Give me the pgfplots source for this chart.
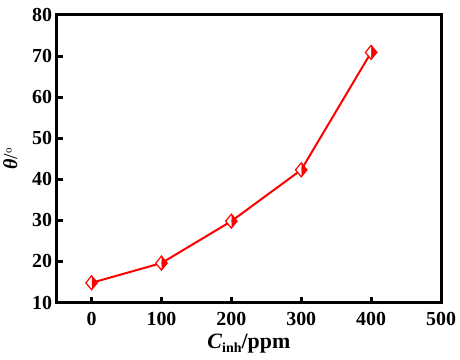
\documentclass[border=0pt]{standalone}
\usepackage{pgfplots}
\pgfplotsset{compat=1.18}
\usepackage{fontspec}
\setmainfont{Liberation Serif}
\pgfdeclareplotmark{hdiamond}{%
  \pgfpathmoveto{\pgfqpoint{0pt}{\pgfplotmarksize}}%
  \pgfpathlineto{\pgfqpoint{0.82\pgfplotmarksize}{0pt}}%
  \pgfpathlineto{\pgfqpoint{0pt}{-\pgfplotmarksize}}%
  \pgfpathclose
  \pgfsetfillcolor{red}\pgfusepath{fill}%
  \pgfpathmoveto{\pgfqpoint{0pt}{\pgfplotmarksize}}%
  \pgfpathlineto{\pgfqpoint{-0.82\pgfplotmarksize}{0pt}}%
  \pgfpathlineto{\pgfqpoint{0pt}{-\pgfplotmarksize}}%
  \pgfpathclose
  \pgfsetfillcolor{white}\pgfusepath{fill}%
  \pgfpathmoveto{\pgfqpoint{0pt}{\pgfplotmarksize}}%
  \pgfpathlineto{\pgfqpoint{0.82\pgfplotmarksize}{0pt}}%
  \pgfpathlineto{\pgfqpoint{0pt}{-\pgfplotmarksize}}%
  \pgfpathlineto{\pgfqpoint{-0.82\pgfplotmarksize}{0pt}}%
  \pgfpathclose
  \pgfusepath{stroke}%
}
\begin{document}
\begin{tikzpicture}
\begin{axis}[
  scale only axis,
  width=385bp, height=288bp,
  xmin=-50, xmax=500, ymin=10, ymax=80,
  xtick={0,100,200,300,400,500},
  ytick={10,20,30,40,50,60,70,80},
  axis line style={line width=3bp},
  tick style={line width=3bp, black},
  major tick length=6bp,
  tick align=inside,
  xtick pos=bottom, ytick pos=left,
  /pgf/number format/assume math mode=true,
  ticklabel style={font=\bfseries\fontsize{20}{20}\selectfont},
  xticklabel style={yshift=-6bp},
  yticklabel style={xshift=-1bp},
  xlabel={\fontsize{22}{22}\selectfont\textbf{\textit{C}\raisebox{-0.4ex}{\fontsize{14}{14}\selectfont inh}/ppm}},
  xlabel style={yshift=-2bp},
  ylabel={\fontsize{20}{20}\selectfont\textbf{\textit{θ}}/\raisebox{0.6ex}{\fontsize{11}{11}\selectfont o}},
  ylabel style={yshift=8bp},
]
\addplot[red, line width=2bp, mark=hdiamond, mark size=7bp, mark options={line width=1.2bp, solid}]
  coordinates {(0,14.8) (100,19.6) (200,29.8) (300,42.3) (400,70.9)};
\end{axis}
\path (-56bp,-57bp) rectangle (404bp,303bp);
\end{tikzpicture}
\end{document}
